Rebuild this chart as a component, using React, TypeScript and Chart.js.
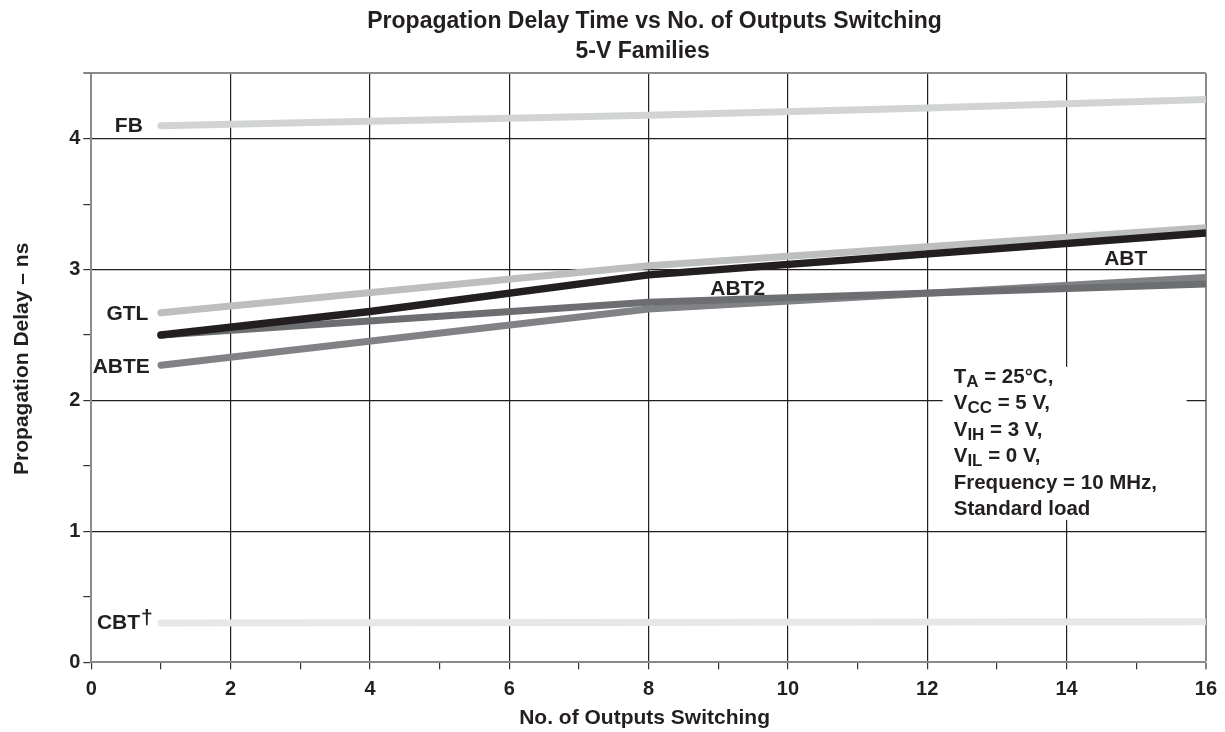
import React, { useEffect, useRef } from "react";
import { Chart, registerables } from "chart.js";

Chart.register(...registerables);

// ---------- text ----------
const titleLines = ["Propagation Delay Time vs No. of Outputs Switching", "5-V Families"];
const xAxisTitle = "No. of Outputs Switching";
const yAxisTitle = "Propagation Delay – ns";

// ---------- axes ----------
const xMin = 0;
const xMax = 16;
const yMin = 0;
const yMax = 4.5;
const xTickLabels = [0, 2, 4, 6, 8, 10, 12, 14, 16];
const yTickLabels = [0, 1, 2, 3, 4];

// ---------- series (x = no. of outputs switching, y = delay in ns) ----------
const abtX = [1, 4, 8, 16];
const abtY = [2.5, 2.68, 2.96, 3.28];
const gtlX = [1, 8, 16];
const gtlY = [2.67, 3.03, 3.32];
const abt2X = [1, 8, 16];
const abt2Y = [2.5, 2.75, 2.89];
const abteX = [1, 8, 16];
const abteY = [2.27, 2.7, 2.94];
const fbX = [1, 8, 12, 16];
const fbY = [4.1, 4.18, 4.235, 4.3];
const cbtX = [1, 16];
const cbtY = [0.3, 0.31];

// ---------- series labels (anchors in data units) ----------
const seriesLabelText = ["FB", "GTL", "ABTE", "CBT", "ABT2", "ABT"];
const seriesLabelX = [0.74, 0.82, 0.84, 0.7, 9.28, 14.85];
const seriesLabelY = [4.11, 2.67, 2.265, 0.31, 2.86, 3.09];
const seriesLabelAlign = ["right", "right", "right", "right", "center", "center"];
const seriesLabelSup = ["", "", "", "†", "", ""];

// ---------- test conditions ----------
const condMain = ["T", "V", "V", "V", "Frequency = 10 MHz,", "Standard load"];
const condSub = ["A", "CC", "IH", "IL", "", ""];
const condRest = [" = 25°C,", " = 5 V,", " = 3 V,", " = 0 V,", "", ""];
const condAnchorX = 12.38;
const condAnchorY = 2.135;

const FONT = "'Liberation Sans', Arial, Helvetica, sans-serif";
const INK = "#231f20";

const pts = (xs: number[], ys: number[]) => xs.map((v, i) => ({ x: v, y: ys[i] }));

const extrasPlugin = {
  id: "extras",
  beforeDatasetsDraw(chart: any) {
    const { ctx, scales } = chart;
    const left = scales.x.getPixelForValue(condAnchorX);
    const base = scales.y.getPixelForValue(condAnchorY);
    ctx.save();
    ctx.fillStyle = "#ffffff";
    ctx.fillRect(left - 11, base - 16, 244, 153);
    ctx.restore();
  },
  afterDraw(chart: any) {
    const { ctx, chartArea, scales } = chart;
    const cx = (chartArea.left + chartArea.right) / 2;
    ctx.save();
    ctx.fillStyle = INK;
    ctx.textBaseline = "alphabetic";

    // chart title
    ctx.font = `bold 23px ${FONT}`;
    ctx.textAlign = "center";
    ctx.fillText(titleLines[0], cx + 6, 28);
    ctx.fillText(titleLines[1], cx - 6, 58);

    // x axis title
    ctx.font = `bold 21px ${FONT}`;
    ctx.fillText(xAxisTitle, cx - 4, 724);

    // y axis title
    ctx.save();
    ctx.translate(28, (chartArea.top + chartArea.bottom) / 2 - 9);
    ctx.rotate(-Math.PI / 2);
    ctx.textAlign = "center";
    ctx.fillText(yAxisTitle, 0, 0);
    ctx.restore();

    // series labels
    const lsize = 21;
    ctx.font = `bold ${lsize}px ${FONT}`;
    seriesLabelText.forEach((t, i) => {
      const px = scales.x.getPixelForValue(seriesLabelX[i]);
      const py = scales.y.getPixelForValue(seriesLabelY[i]) + (lsize * 0.716) / 2;
      ctx.textAlign = seriesLabelAlign[i] as CanvasTextAlign;
      ctx.fillText(t, px, py);
      if (seriesLabelSup[i]) {
        ctx.textAlign = "left";
        ctx.fillText(seriesLabelSup[i], px + 1, py - 5);
      }
    });

    // conditions block
    const left = scales.x.getPixelForValue(condAnchorX);
    const base0 = scales.y.getPixelForValue(condAnchorY);
    ctx.textAlign = "left";
    condMain.forEach((m, i) => {
      const by = base0 + i * 26.5;
      let x = left;
      ctx.font = `bold 20.5px ${FONT}`;
      ctx.fillText(m, x, by);
      x += ctx.measureText(m).width;
      if (condSub[i]) {
        ctx.font = `bold 17px ${FONT}`;
        ctx.fillText(condSub[i], x, by + 4);
        x += ctx.measureText(condSub[i]).width;
      }
      if (condRest[i]) {
        ctx.font = `bold 20.5px ${FONT}`;
        ctx.fillText(condRest[i], x, by);
      }
    });
    ctx.restore();
  },
};

export default function App() {
  const canvasRef = useRef<HTMLCanvasElement | null>(null);

  useEffect(() => {
    if (!canvasRef.current) return;
    const line = (label: string, xs: number[], ys: number[], color: string, width: number) => ({
      label,
      data: pts(xs, ys),
      borderColor: color,
      backgroundColor: color,
      borderWidth: width,
      borderCapStyle: "round" as const,
      borderJoinStyle: "round" as const,
      pointRadius: 0,
      pointHoverRadius: 0,
      tension: 0,
      fill: false,
    });

    const chart = new Chart(canvasRef.current, {
      type: "line",
      data: {
        datasets: [
          line("ABT", abtX, abtY, "#231f20", 7.5),
          line("GTL", gtlX, gtlY, "#bcbec0", 7),
          line("ABT2", abt2X, abt2Y, "#6d6e71", 7),
          line("ABTE", abteX, abteY, "#808285", 7),
          line("FB", fbX, fbY, "#d1d3d4", 7),
          line("CBT†", cbtX, cbtY, "#e6e7e8", 7),
        ],
      },
      options: {
        responsive: false,
        animation: false,
        events: [],
        layout: { padding: { top: 73.3, right: 18.3, left: 0, bottom: 0 } },
        plugins: {
          legend: { display: false },
          title: { display: false },
          tooltip: { enabled: false },
        },
        scales: {
          x: {
            type: "linear",
            position: "bottom",
            min: xMin,
            max: xMax,
            afterFit: (s: any) => {
              s.height = 69.7;
            },
            ticks: {
              stepSize: 1,
              autoSkip: false,
              maxRotation: 0,
              padding: 8,
              color: INK,
              font: { family: FONT, weight: "bold", size: 20 },
              callback: (v: any) => (xTickLabels.includes(Number(v)) ? String(v) : ""),
            },
            grid: {
              color: (c: any) => {
                const v = c.tick?.value;
                if (v === xMax) return "#8a8a8a";
                if (v > xMin && v < xMax && xTickLabels.includes(v)) return INK;
                return "rgba(0,0,0,0)";
              },
              lineWidth: (c: any) => (c.tick?.value === xMax ? 2 : 1.2),
              tickColor: "#333333",
              tickLength: 7,
              tickWidth: 1.2,
            },
            border: { display: true, color: "#8a8a8a", width: 2 },
          },
          y: {
            type: "linear",
            min: yMin,
            max: yMax,
            afterFit: (s: any) => {
              s.width = 91.3;
            },
            ticks: {
              stepSize: 0.5,
              autoSkip: false,
              padding: 3,
              color: INK,
              font: { family: FONT, weight: "bold", size: 20 },
              callback: (v: any) => (yTickLabels.includes(Number(v)) ? String(v) : ""),
            },
            grid: {
              color: (c: any) => {
                const v = c.tick?.value;
                if (v === yMax) return "#8a8a8a";
                if (v > yMin && yTickLabels.includes(v)) return INK;
                return "rgba(0,0,0,0)";
              },
              lineWidth: (c: any) => (c.tick?.value === yMax ? 2 : 1.2),
              tickColor: "#333333",
              tickLength: 8,
              tickWidth: 1.2,
            },
            border: { display: true, color: "#8a8a8a", width: 2 },
          },
        },
      },
      plugins: [extrasPlugin],
    });
    return () => chart.destroy();
  }, []);

  return (
    <div style={{ position: "absolute", left: 0, top: 0, width: 1225, height: 732, background: "#fff" }}>
      <canvas ref={canvasRef} width={1225} height={732} style={{ display: "block" }} />
    </div>
  );
}
